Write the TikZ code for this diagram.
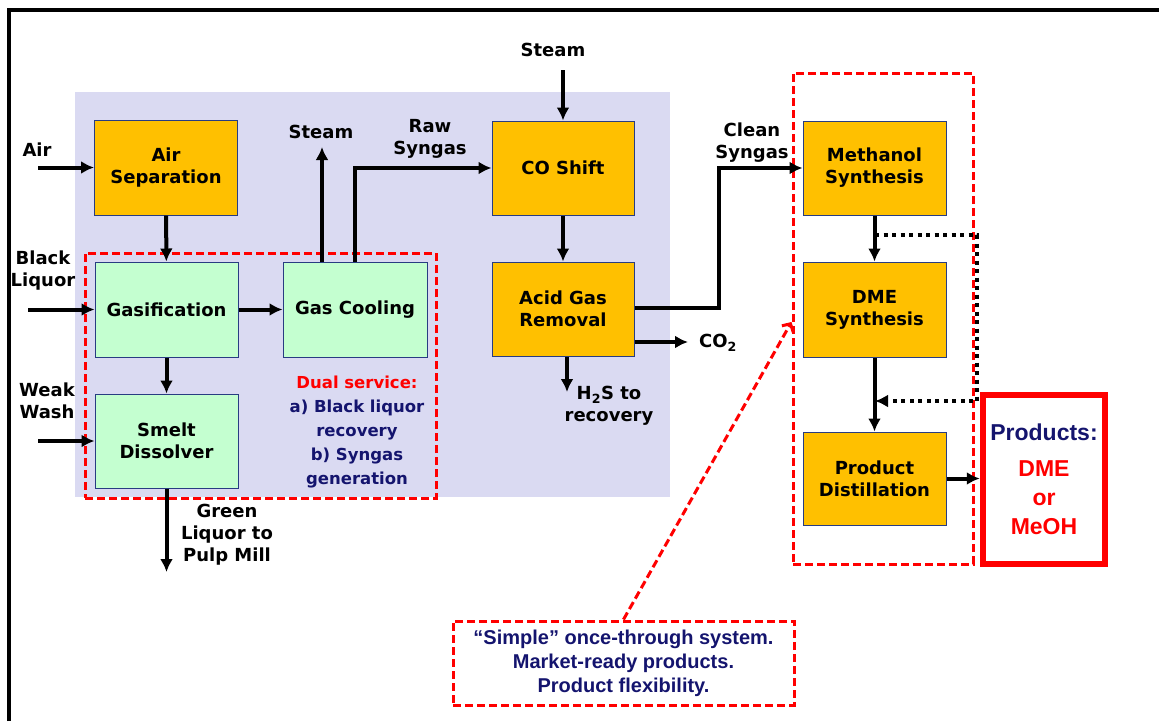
\documentclass[tikz,border=0pt]{standalone}
\usepackage{fontspec}
\setmainfont{DejaVu Sans}
\newfontfamily\arialfont{Liberation Sans}
\usetikzlibrary{arrows.meta,calc}

\definecolor{unitorange}{RGB}{255,192,0}
\definecolor{unitgreen}{RGB}{196,255,208}
\definecolor{unitedge}{RGB}{40,60,130}
\definecolor{padblue}{RGB}{218,218,242}
\definecolor{inkblue}{RGB}{20,20,110}
\definecolor{alertred}{RGB}{255,0,0}

\tikzset{
	unit/.style={draw=unitedge, line width=1pt, minimum width=143pt, minimum height=95pt, inner sep=0pt, align=center, font=\fontsize{18}{22}\selectfont\bfseries},
	hotunit/.style={unit, fill=unitorange},
	wetunit/.style={unit, fill=unitgreen},
	flow/.style={line width=4pt, -{Latex[length=13pt,width=13pt]}},
	recycle/.style={line width=4pt, dash pattern=on 4pt off 4.5pt, -{Latex[length=13pt,width=13pt]}},
	tag/.style={align=center, inner sep=0pt, font=\fontsize{18}{22}\selectfont\bfseries},
	redzone/.style={draw=alertred, line width=3pt, dash pattern=on 8pt off 4pt}
}

\begin{document}
\begin{tikzpicture}[x=1pt,y=-1pt]
			%%%%% START %%%%%
			\useasboundingbox (0,0) rectangle (1159,721);
			
			\draw[line width=4pt] (9,721) -- (9,10) -- (1159,10);
			\fill[padblue] (75,92) rectangle (670,497);
			
			\node[redzone, minimum width=351pt, minimum height=245pt] (dualzone) at (260.5,375.5) {};
			\node[redzone, minimum width=180pt, minimum height=491pt] (shiftzone) at (883,318.5) {};
			
			% units
			\node[hotunit] (airsep) at (166,167.5) {Air\\Separation};
			\node[wetunit] (gasif) at (166.5,309.5) {Gasification};
			\node[wetunit, minimum width=144pt] (gascool) at (355,309.5) {Gas Cooling};
			\node[wetunit, minimum height=94pt] (smelt) at (166.5,441) {Smelt\\Dissolver};
			\node[hotunit, minimum width=142pt, minimum height=94pt] (coshift) at (563,168) {CO Shift};
			\node[hotunit, minimum width=142pt, minimum height=94pt] (agr) at (563,309) {Acid Gas\\Removal};
			\node[hotunit, minimum height=94pt] (meoh) at (874.5,168) {Methanol\\Synthesis};
			\node[hotunit] (dme) at (874.5,309.5) {DME\\Synthesis};
			\node[hotunit, minimum height=93pt] (dist) at (874.5,478.5) {Product\\Distillation};
			
			\node[draw=alertred, line width=6pt, minimum width=122.5pt, minimum height=169pt, inner sep=0pt, align=center, font=\arialfont\fontsize{23}{29}\selectfont\bfseries] (products) at (1044,479) {\textcolor{inkblue}{Products:}\\[7pt]\textcolor{alertred}{DME}\\\textcolor{alertred}{or}\\\textcolor{alertred}{MeOH}};
			
			\node[align=center, inner sep=0pt, font=\fontsize{16.5}{24}\selectfont\bfseries, text=inkblue] (dualnote) at (357,432) {\textcolor{alertred}{Dual service:}\\a) Black liquor\\recovery\\b) Syngas\\generation};
			
			\node[redzone, minimum width=341pt, minimum height=84pt, inner sep=0pt, align=center, font=\arialfont\fontsize{20}{24}\selectfont\bfseries, text=inkblue] (callout) at (623.5,663) {“Simple” once-through system.\\Market-ready products.\\Product flexibility.};
			
			% stream labels
			\node[tag] (airtag) at (37,150) {Air};
			\node[tag] (bltag) at (43,271) {Black\\Liquor};
			\node[tag] (wwtag) at (47,401) {Weak\\Wash};
			\node[tag] (greentag) at (227,535) {Green\\Liquor to\\Pulp Mill};
			\node[tag] (steamtag) at (321,132) {Steam};
			\node[tag] (rawtag) at (430,139) {Raw\\Syngas};
			\node[tag] (steamintag) at (553,50) {Steam};
			\node[tag] (cleantag) at (752,143) {Clean\\Syngas};
			\node[tag, anchor=west] (co2tag) at (699,343) {CO\textsubscript{2}};
			\node[tag] (h2stag) at (609,406) {H\textsubscript{2}S to\\recovery};
			
			% free ends
			\coordinate (airin) at (38,167.5);
			\coordinate (blin) at (28,309.5);
			\coordinate (wwin) at (38,441);
			\coordinate (greenout) at (166.5,572);
			\coordinate (steamout) at (322,147);
			\coordinate (steamin) at (563,70);
			\coordinate (bend) at (719,308);
			\coordinate (co2out) at (688,342);
			\coordinate (h2sout) at (567,392);
			\coordinate (tapa) at (875,235);
			\coordinate (loopa) at (977,235);
			\coordinate (loopb) at (977,401);
			
			% streams
			\draw[flow] (airin) -- (airsep.west);
			\draw[flow] (blin) -- (gasif.west);
			\draw[flow] (wwin) -- (smelt.west);
			\draw[flow] (airsep) -- (gasif);
			\draw[flow] (gasif) -- (gascool);
			\draw[flow] (gasif) -- (smelt);
			\draw[flow] (smelt.south) -- (greenout);
			\draw[flow] (gascool.north -| steamout) -- (steamout);
			\draw[flow] (gascool.north) -- (gascool.north |- coshift.west) -- (coshift.west);
			\draw[flow] (steamin) -- (coshift.north);
			\draw[flow] (coshift) -- (agr);
			\draw[flow] (agr.east |- bend) -- (bend) -- (bend |- meoh.west) -- (meoh.west);
			\draw[flow] (agr.east |- co2out) -- (co2out);
			\draw[flow] (agr.south -| h2sout) -- (h2sout);
			\draw[flow] (meoh) -- (dme);
			\draw[flow] (dme) -- (dist);
			\draw[recycle] (tapa) -- (loopa) -- (loopb) -- (tapa |- loopb);
			\draw[flow] (dist.east) -- (dist.east -| products.west);
			
			\draw[redzone, -{Straight Barb[length=6pt,width=13pt]}] (callout.north) -- ([yshift=-3.5pt]shiftzone.west);
			
			%%%%% END %%%%%
\end{tikzpicture}
\end{document}
